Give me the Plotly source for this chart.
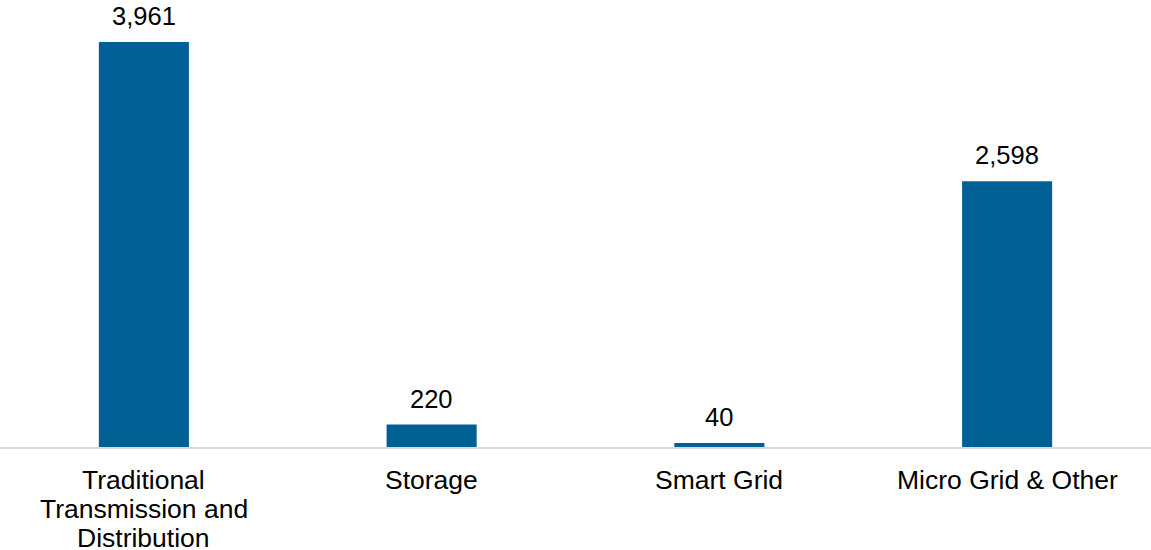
import plotly.graph_objects as go

categories = ["Traditional Transmission and Distribution", "Storage", "Smart Grid", "Micro Grid & Other"]
tick_labels = [["Traditional", "Transmission and", "Distribution"], ["Storage"], ["Smart Grid"], ["Micro Grid & Other"]]
values = [3961, 220, 40, 2598]
value_labels = [f"{v:,}" for v in values]

FONT = "Liberation Sans, Arial, sans-serif"

fig = go.Figure()
fig.add_trace(go.Bar(
    x=categories, y=values,
    marker=dict(color="#005f94", line=dict(width=0)),
    hoverinfo="skip",
))
for c, v, t in zip(categories, values, value_labels):
    fig.add_annotation(x=c, y=v, text=t, showarrow=False, yanchor="bottom",
                       yshift=10, font=dict(size=25.5, color="#000000", family=FONT))
for c, lines in zip(categories, tick_labels):
    for i, line in enumerate(lines):
        fig.add_annotation(x=c, y=0, text=line, showarrow=False, yanchor="top",
                           yshift=-(16 + 29 * i),
                           font=dict(size=26.5, color="#000000", family=FONT))

fig.update_layout(
    width=1151, height=550,
    margin=dict(l=0, r=0, t=38, b=103),
    paper_bgcolor="white", plot_bgcolor="white",
    bargap=0.687,
    showlegend=False,
    font=dict(family=FONT, size=25, color="#000000"),
    xaxis=dict(showgrid=False, showline=True, linecolor="#d9d9d9", linewidth=2,
               ticks="", showticklabels=False, automargin=False),
    yaxis=dict(range=[0, 4000], visible=False, showgrid=False, zeroline=False),
)
fig.write_html("out.html", config={"displayModeBar": False},
               post_script="document.body.style.margin='0';document.body.style.overflow='hidden';")
